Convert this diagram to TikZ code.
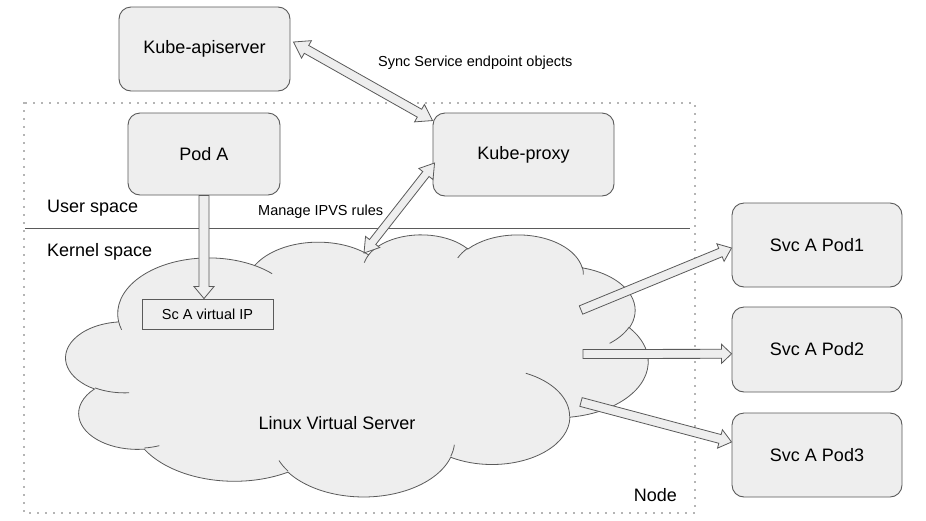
\documentclass[tikz,border=0pt]{standalone}
\usepackage{fontspec}
\setmainfont{Liberation Sans}
\usetikzlibrary{calc}
\definecolor{boxfill}{HTML}{EEEEEE}
\definecolor{edge}{HTML}{5A5A5A}
\definecolor{dotc}{HTML}{6A6A6A}
\newcommand\bigf{\fontsize{18}{21}\selectfont}
\newcommand\smallf{\fontsize{14.5}{17}\selectfont}
% geometric (OOXML) angle -> parametric angle for a cloud arc
\newcommand\cloudang[5]{%
  \pgfmathsetmacro\cldS{atan2((#2)*sin(#4),(#3)*cos(#4))}%
  \pgfmathsetmacro\cldE{atan2((#2)*sin((#4)+(#5)),(#3)*cos((#4)+(#5)))}%
  \pgfmathsetmacro\cldD{\cldE-\cldS}%
  \pgfmathsetmacro\cldD{\cldD-360*round((\cldD-(#5))/360)}%
  \expandafter\let\csname cloudts#1\endcsname\cldS
  \expandafter\let\csname clouddt#1\endcsname\cldD}
\cloudang{A}{67.53}{91.90}{-190.48748}{123.78053}
\cloudang{B}{53.33}{72.67}{-144.10238}{89.94523}
\cloudang{C}{43.65}{59.45}{-145.80792}{99.72302}
\cloudang{D}{48.57}{65.95}{-130.98607}{117.24173}
\cloudang{E}{53.33}{72.73}{-78.70888}{109.02692}
\cloudang{F}{67.75}{92.20}{-46.26725}{130.269}
\cloudang{G}{57.85}{78.67}{0.62502}{114.03333}
\cloudang{H}{67.52}{92.15}{22.4516}{115.17255}
\cloudang{I}{77.20}{105.43}{66.24263}{75.71102}
\cloudang{J}{43.60}{59.18}{-274.94208}{146.73557}
\cloudang{K}{43.45}{59.45}{-246.8285}{152.51885}
\cloudang{a}{43.45}{59.45}{86.742}{26.4295}
\cloudang{b}{43.60}{59.18}{73.61047}{11.44747}
\cloudang{c}{67.52}{92.15}{137.62415}{14.0811}
\cloudang{d}{67.52}{92.15}{6.45327}{15.99835}
\cloudang{e}{57.85}{78.67}{-70.29235}{70.91737}
\cloudang{f}{53.33}{72.73}{30.31803}{27.7515}
\cloudang{g}{48.57}{65.95}{-13.74433}{14.8589}
\cloudang{h}{48.57}{65.95}{-149.18145}{18.19537}
\cloudang{i}{43.65}{59.45}{-163.49427}{17.69218}
\cloudang{j}{67.53}{91.90}{-66.70695}{12.31935}
\cloudang{k}{67.53}{91.90}{157.65435}{11.85393}
\newcommand\blockarrow[5]{% tail, tip, shaft half width, head half width, head length
  \coordinate (bah) at ($(#2)!#5!(#1)$);
  \filldraw[blockarr] ($(#1)!#3!90:(#2)$) -- ($(bah)!#3!90:(#2)$) -- ($(bah)!#4!90:(#2)$) -- (#2)
    -- ($(bah)!#4!-90:(#2)$) -- ($(bah)!#3!-90:(#2)$) -- ($(#1)!#3!-90:(#2)$) -- cycle;}
\newcommand\dblockarrow[5]{%
  \coordinate (dah) at ($(#1)!#5!(#2)$);
  \coordinate (dbh) at ($(#2)!#5!(#1)$);
  \filldraw[blockarr] (#1) -- ($(dah)!#4!90:(#2)$) -- ($(dah)!#3!90:(#2)$) -- ($(dbh)!#3!90:(#2)$)
    -- ($(dbh)!#4!90:(#2)$) -- (#2) -- ($(dbh)!#4!-90:(#2)$) -- ($(dbh)!#3!-90:(#2)$)
    -- ($(dah)!#3!-90:(#2)$) -- ($(dah)!#4!-90:(#2)$) -- cycle;}
\begin{document}
\begin{tikzpicture}[x=1pt,y=-1pt,
  box/.style={draw=edge, fill=boxfill, rounded corners=12pt, line width=0.9pt, font=\bigf, inner sep=0pt},
  vipbox/.style={draw=edge, fill=boxfill, line width=0.9pt, font=\smallf, inner sep=0pt, minimum width=131pt, minimum height=30pt},
  lbl/.style={inner sep=0pt, font=\bigf},
  slbl/.style={inner sep=0pt, font=\smallf},
  blockarr/.style={draw=edge, fill=boxfill, line width=0.8pt, line join=miter},
  cloudfill/.style={draw=edge, fill=boxfill, line width=0.8pt},
  cloudline/.style={draw=edge, line width=0.8pt}]
\useasboundingbox (0,0) rectangle (926,520);
\fill[white] (0,0) rectangle (926,520);
% node boundary
\draw[dotc, line width=1.9pt, line cap=round, dash pattern=on 0pt off 8pt] (24,103) rectangle (695,513);
\coordinate (sepL) at (25,228);
\coordinate (sepR) at (690,228);
\draw[edge, line width=0.8pt] (sepL) -- (sepR);
% cloud
\begin{scope}[shift={(66,234)}, x=1.3472pt, y=-0.6065pt]
\path[cloudfill] (39.00,143.70)
  arc[start angle=\cloudtsA, delta angle=\clouddtA, x radius=67.53, y radius=91.90]
  arc[start angle=\cloudtsB, delta angle=\clouddtB, x radius=53.33, y radius=72.67]
  arc[start angle=\cloudtsC, delta angle=\clouddtC, x radius=43.65, y radius=59.45]
  arc[start angle=\cloudtsD, delta angle=\clouddtD, x radius=48.57, y radius=65.95]
  arc[start angle=\cloudtsE, delta angle=\clouddtE, x radius=53.33, y radius=72.73]
  arc[start angle=\cloudtsF, delta angle=\clouddtF, x radius=67.75, y radius=92.20]
  arc[start angle=\cloudtsG, delta angle=\clouddtG, x radius=57.85, y radius=78.67]
  arc[start angle=\cloudtsH, delta angle=\clouddtH, x radius=67.52, y radius=92.15]
  arc[start angle=\cloudtsI, delta angle=\clouddtI, x radius=77.20, y radius=105.43]
  arc[start angle=\cloudtsJ, delta angle=\clouddtJ, x radius=43.60, y radius=59.18]
  arc[start angle=\cloudtsK, delta angle=\clouddtK, x radius=43.45, y radius=59.45]
  -- cycle;
\path[cloudline]
  (46.93,261.77) arc[start angle=\cloudtsa, delta angle=\clouddta, x radius=43.45, y radius=59.45]
  (69.28,348.99) arc[start angle=\cloudtsb, delta angle=\clouddtb, x radius=43.60, y radius=59.18]
  (164.78,390.90) arc[start angle=\cloudtsc, delta angle=\clouddtc, x radius=67.52, y radius=92.15]
  (288.27,347.51) arc[start angle=\cloudtsd, delta angle=\clouddtd, x radius=67.52, y radius=92.15]
  (341.29,229.54) arc[start angle=\cloudtse, delta angle=\clouddte, x radius=57.85, y radius=78.67]
  (417.98,153.54) arc[start angle=\cloudtsf, delta angle=\clouddtf, x radius=53.33, y radius=72.73]
  (383.24,54.26) arc[start angle=\cloudtsg, delta angle=\clouddtg, x radius=48.57, y radius=65.95]
  (290.78,39.52) arc[start angle=\cloudtsh, delta angle=\clouddth, x radius=48.57, y radius=65.95]
  (221.41,47.20) arc[start angle=\cloudtsi, delta angle=\clouddti, x radius=43.65, y radius=59.45]
  (140.00,51.92) arc[start angle=\cloudtsj, delta angle=\clouddtj, x radius=67.53, y radius=91.90]
  (41.27,157.89) arc[start angle=\cloudtsk, delta angle=\clouddtk, x radius=67.53, y radius=91.90];
\end{scope}
\node (lvs) at (337,423) [lbl] {Linux Virtual Server};
% boxes
\node[box, minimum width=171pt, minimum height=84pt] (api) at (204.5,49) {Kube-apiserver};
\node[box, minimum width=152pt, minimum height=82pt] (podA) at (204,154) {Pod A};
\node[box, minimum width=181pt, minimum height=83pt] (proxy) at (523.5,154.5) {Kube-proxy};
\node[box, minimum width=170pt, minimum height=84pt] (svc1) at (817,245) {Svc A Pod1};
\node[box, minimum width=170pt, minimum height=85pt] (svc2) at (817,349.5) {Svc A Pod2};
\node[box, minimum width=170pt, minimum height=84pt] (svc3) at (817,455) {Svc A Pod3};
\node[vipbox] (vip) at (207.5,314) {Sc A virtual IP};
% labels
\node[lbl, anchor=west] (userlbl) at (47,208) {User space};
\node[lbl, anchor=west] (kernlbl) at (47,252) {Kernel space};
\node[slbl, anchor=west] (synclbl) at (378,63) {Sync Service endpoint objects};
\node[slbl, anchor=west] (ipvslbl) at (258,212) {Manage IPVS rules};
\node[lbl, anchor=east] (nodelbl) at (677,495) {Node};
% connectors
\coordinate (apiEnd) at ([xshift=3pt,yshift=7pt]api.east);
\coordinate (proxyTop) at ([yshift=-8pt]proxy.north west);
\coordinate (proxySide) at ([xshift=2pt,yshift=-8.5pt]proxy.west);
\coordinate (cloudTop) at (364,253);
\coordinate (podEnd) at (podA.south);
\coordinate (vipTop) at (podA.south |- vip.north);
\coordinate (out1) at (581,310);
\coordinate (out2) at (583,354);
\coordinate (out3) at (581,402);
\coordinate (in1) at ([yshift=-3pt]svc1.west);
\coordinate (in2) at ([yshift=-4.3pt]svc2.west);
\coordinate (in3) at ([yshift=13pt]svc3.west);
\dblockarrow{apiEnd}{proxyTop}{4.5pt}{10pt}{15pt}
\dblockarrow{proxySide}{cloudTop}{4pt}{9pt}{14pt}
\blockarrow{podEnd}{vipTop}{5pt}{10pt}{12pt}
\blockarrow{out1}{in1}{4.5pt}{9.5pt}{12pt}
\blockarrow{out2}{in2}{4.5pt}{9.5pt}{10pt}
\blockarrow{out3}{in3}{4.5pt}{9.5pt}{12pt}
\end{tikzpicture}
\end{document}
